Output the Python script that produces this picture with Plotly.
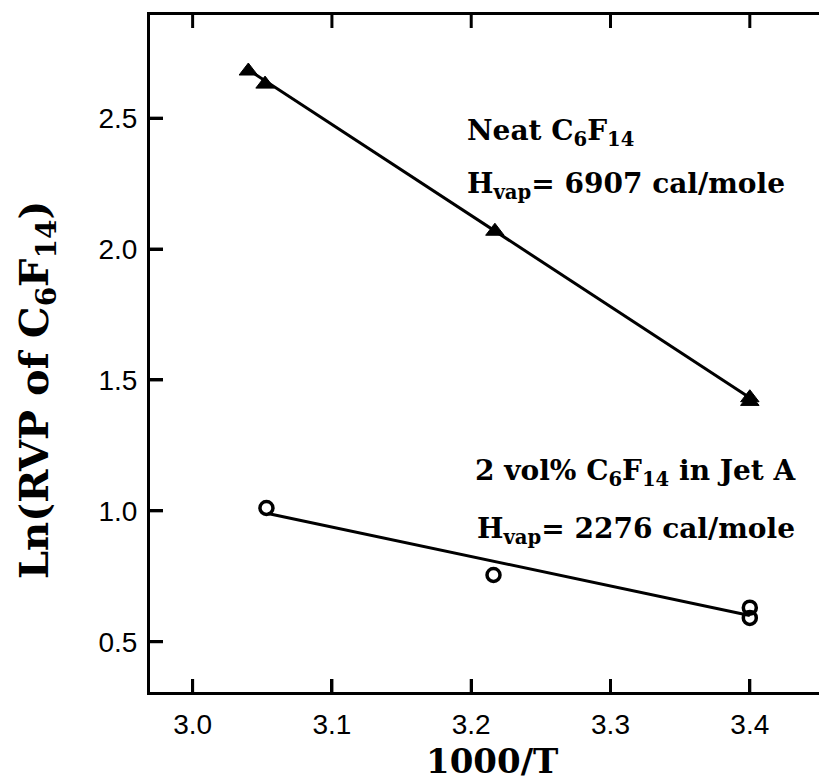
import plotly.graph_objects as go

# Data
neat_x = [3.040, 3.052, 3.217, 3.400, 3.400]
neat_y = [2.68, 2.63, 2.068, 1.432, 1.418]
jet_x = [3.053, 3.216, 3.400, 3.400]
jet_y = [1.011, 0.755, 0.630, 0.591]
neat_fit_x = [3.040, 3.400]
neat_fit_y = [2.685, 1.432]
jet_fit_x = [3.054, 3.400]
jet_fit_y = [0.990, 0.600]

x_ticks = [3.0, 3.1, 3.2, 3.3, 3.4]
x_ticklabels = ["3.0", "3.1", "3.2", "3.3", "3.4"]
y_ticks = [0.5, 1.0, 1.5, 2.0, 2.5]
y_ticklabels = ["0.5", "1.0", "1.5", "2.0", "2.5"]

x_range = [2.9694, 3.459]
y_range = [0.308, 2.894]

fig = go.Figure()
fig.add_trace(go.Scatter(x=neat_fit_x, y=neat_fit_y, mode="lines",
                         line=dict(color="black", width=3), showlegend=False))
fig.add_trace(go.Scatter(x=jet_fit_x, y=jet_fit_y, mode="lines",
                         line=dict(color="black", width=3), showlegend=False))
fig.add_trace(go.Scatter(x=neat_x, y=neat_y, mode="markers",
                         marker=dict(symbol="triangle-up", size=16, color="black",
                                     line=dict(color="black", width=1)),
                         showlegend=False))
fig.add_trace(go.Scatter(x=jet_x, y=jet_y, mode="markers",
                         marker=dict(symbol="circle-open", size=13, color="black",
                                     line=dict(color="black", width=3.5)),
                         showlegend=False))

ann_font = dict(family="DejaVu Serif", size=28, color="black")
annos = [
    dict(x=3.1956, y=2.447, text="<b>Neat C<sub>6</sub>F<sub>14</sub></b>"),
    dict(x=3.1956, y=2.244, text="<b>H<sub>vap</sub>= 6907 cal/mole</b>"),
    dict(x=3.2013, y=1.148, text="<b>2 vol% C<sub>6</sub>F<sub>14</sub> in Jet A</b>"),
    dict(x=3.2027, y=0.925, text="<b>H<sub>vap</sub>= 2276 cal/mole</b>"),
]
for a in annos:
    fig.add_annotation(x=a["x"], y=a["y"], xref="x", yref="y", text=a["text"],
                       showarrow=False, xanchor="left", yanchor="middle",
                       font=ann_font)

# plot area in page pixels (left, top, right, bottom)
L, T, R, B = 142, 7, 824, 684
W, H = 827, 783
TICK_LEN = 13

def px(xp):
    return (xp - L) / (R - L)

def py(yp):
    return (B - yp) / (B - T)

# axis titles
fig.add_annotation(x=px(484), y=py(775), xref="paper", yref="paper",
                   text="<b>1000/T</b>", showarrow=False, xanchor="center", yanchor="bottom",
                   font=dict(family="DejaVu Serif", size=34, color="black"))
fig.add_annotation(x=px(28), y=py(382), xref="paper", yref="paper",
                   text="<b>Ln(RVP of C<sub>6</sub>F<sub>14</sub>)</b>", textangle=-90,
                   showarrow=False, xanchor="center", yanchor="middle",
                   font=dict(family="DejaVu Serif", size=40, color="black"))

# inward tick marks on all four sides, at the tick values
tick_line = dict(color="black", width=3)
fx = TICK_LEN / (B - T)
fy = TICK_LEN / (R - L)
for xv in x_ticks:
    fig.add_shape(type="line", xref="x", yref="paper", x0=xv, x1=xv, y0=0, y1=fx,
                  line=tick_line, layer="above")
    fig.add_shape(type="line", xref="x", yref="paper", x0=xv, x1=xv, y0=1, y1=1 - fx,
                  line=tick_line, layer="above")
for yv in y_ticks:
    fig.add_shape(type="line", xref="paper", yref="y", x0=0, x1=fy, y0=yv, y1=yv,
                  line=tick_line, layer="above")
    fig.add_shape(type="line", xref="paper", yref="y", x0=1, x1=1 - fy, y0=yv, y1=yv,
                  line=tick_line, layer="above")

axis_common = dict(showline=True, linecolor="black", linewidth=3, mirror=True,
                   ticks="inside", ticklen=TICK_LEN, tickwidth=3, tickcolor="black",
                   showgrid=False, zeroline=False,
                   tickfont=dict(family="Liberation Sans", size=28, color="black"))

fig.update_xaxes(range=x_range, tickvals=x_ticks, ticktext=x_ticklabels,
                 ticklabelstandoff=5, **axis_common)
fig.update_yaxes(range=y_range, tickvals=y_ticks, ticktext=y_ticklabels,
                 ticklabelstandoff=4, **axis_common)

fig.update_layout(width=W, height=H, paper_bgcolor="white", plot_bgcolor="white",
                  margin=dict(l=L, r=W - R, t=T, b=H - B, autoexpand=False))

fig.write_html("out.html")
